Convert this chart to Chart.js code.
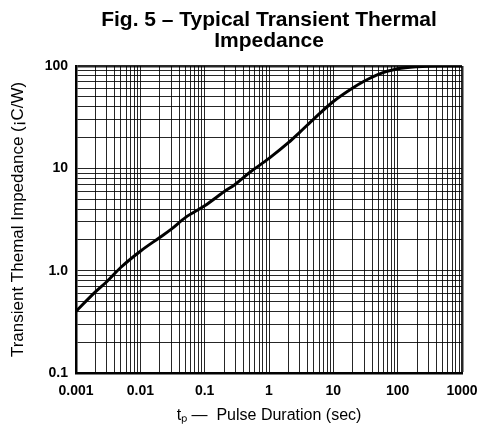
<!DOCTYPE html>
<html>
<head>
<meta charset="utf-8">
<script src="https://cdn.jsdelivr.net/npm/chart.js@4.4.1/dist/chart.umd.min.js"></script>
<style>
  html, body { margin: 0; padding: 0; background: #fff; }
  #wrap { width: 480px; height: 428px; }
</style>
</head>
<body>
<div id="wrap"><canvas id="chart"></canvas></div>
<script>
// pulse duration (sec) and thermal impedance
const pulseDuration = [0.001, 0.002, 0.003, 0.005, 0.01, 0.02, 0.03, 0.05, 0.1, 0.2, 0.3, 0.5,
  1, 2, 3, 5, 10, 20, 30, 50, 100, 200, 500, 1000];
const impedance = [0.4, 0.62, 0.78, 1.08, 1.55, 2.11, 2.53, 3.3, 4.3, 5.9, 7.0, 9.1,
  12.5, 17.8, 22.5, 30.5, 45, 61, 71, 83, 94, 98.5, 100, 100];

// decade labels for the two log axes
const xDecades = [0.001, 0.01, 0.1, 1, 10, 100];
const xLabels = ["0.001", "0.01", "0.1", "1", "10", "100", "1000"];
const yDecades = [0.1, 1, 10];
const yLabels = ["0.1", "1.0", "10", "100"];
const gridSteps = [1, 2, 3, 4, 5, 6, 7, 8, 9];

const FONT = "'Liberation Sans', Arial, Helvetica, sans-serif";

// grid values: 1..9 in every decade plus the final decade
function gridValues(decades) {
  const vals = [];
  decades.forEach((d) => {
    gridSteps.forEach((s) => vals.push(Number((s * d).toPrecision(3))));
  });
  vals.push(Number((decades[decades.length - 1] * 10).toPrecision(3)));
  return vals;
}
const xGrid = gridValues(xDecades);
const yGrid = gridValues(yDecades);
const xMajor = xDecades.concat([xDecades[xDecades.length - 1] * 10]).map((v) => Number(v.toPrecision(3)));
const yMajor = yDecades.concat([yDecades[yDecades.length - 1] * 10]).map((v) => Number(v.toPrecision(3)));

const points = pulseDuration.map((x, i) => ({ x: x, y: impedance[i] }));

new Chart(document.getElementById("chart"), {
  type: "line",
  data: {
    datasets: [
      {
        data: points,
        borderColor: "#000",
        borderWidth: 3,
        pointRadius: 0,
        cubicInterpolationMode: "monotone",
        fill: false,
      },
    ],
  },
  options: {
    responsive: true,
    maintainAspectRatio: false,
    animation: false,
    layout: { padding: { top: 0, right: 18, bottom: 0, left: 0 } },
    plugins: {
      legend: { display: false },
      tooltip: { enabled: false },
      title: {
        display: true,
        fullSize: false,
        text: ["Fig. 5 \u2013 Typical Transient Thermal", "Impedance"],
        color: "#000",
        font: { family: FONT, size: 21, weight: "bold", lineHeight: 1.0 },
        padding: { top: 10, bottom: 14 },
      },
    },
    scales: {
      x: {
        type: "logarithmic",
        min: 0.001,
        max: 1000,
        afterBuildTicks: (scale) => {
          scale.ticks = xGrid.map((v) => ({ value: v }));
        },
        afterFit: (scale) => {
          scale.height = 55;
          // let the "1000" label hang into the right margin
          scale.paddingRight = 0;
        },
        ticks: {
          autoSkip: false,
          maxRotation: 0,
          padding: 10,
          color: "#000",
          font: { family: FONT, size: 14, weight: "bold" },
          callback: (value) => {
            const i = xMajor.indexOf(Number(Number(value).toPrecision(3)));
            return i >= 0 ? xLabels[i] : "";
          },
        },
        grid: {
          drawTicks: false,
          color: "rgba(0,0,0,0.85)",
          lineWidth: (ctx) => (ctx.tick && ctx.tick.value === 1000 ? 2.5 : 1),
        },
        border: { color: "#000", width: 2.5 },
        title: {
          display: true,
          text: "t\u209A \u2014  Pulse Duration (sec)",
          color: "#000",
          font: { family: FONT, size: 16 },
          padding: { top: 0, bottom: 3 },
        },
      },
      y: {
        type: "logarithmic",
        min: 0.1,
        max: 100,
        afterBuildTicks: (scale) => {
          scale.ticks = yGrid.map((v) => ({ value: v }));
        },
        afterFit: (scale) => {
          scale.width = 76;
        },
        ticks: {
          autoSkip: false,
          padding: 8,
          color: "#000",
          font: { family: FONT, size: 14, weight: "bold" },
          callback: (value) => {
            const i = yMajor.indexOf(Number(Number(value).toPrecision(3)));
            return i >= 0 ? yLabels[i] : "";
          },
        },
        grid: {
          drawTicks: false,
          color: "rgba(0,0,0,0.85)",
          lineWidth: (ctx) => (ctx.tick && ctx.tick.value === 100 ? 2.5 : 1),
        },
        border: { color: "#000", width: 2.5 },
        title: {
          display: true,
          text: "Transient Themal Impedance (\u00A1C/W)",
          color: "#000",
          font: { family: FONT, size: 17 },
          padding: { top: 8, bottom: 0 },
        },
      },
    },
  },
});
</script>
</body>
</html>
